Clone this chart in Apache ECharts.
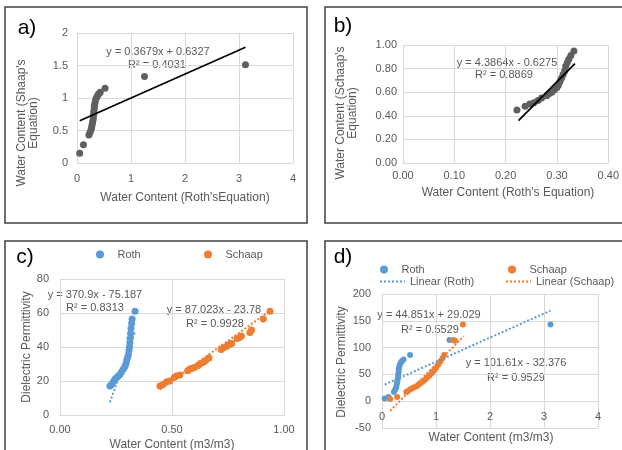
<!DOCTYPE html>
<html>
<head>
<meta charset="utf-8">
<script src="https://cdn.jsdelivr.net/npm/echarts@6/dist/echarts.min.js"></script>
<style>
html, body { margin: 0; padding: 0; background: #fff; }
#chart { width: 622px; height: 450px; }
</style>
</head>
<body>
<div id="chart"></div>
<script>
// a) water content, Roth (x) vs Schaap (y)
var pointsA = [
  [0.05, 0.15], [0.12, 0.28], [0.22, 0.43], [0.24, 0.47], [0.26, 0.51], [0.27, 0.55],
  [0.28, 0.59], [0.29, 0.63], [0.30, 0.67], [0.30, 0.71], [0.31, 0.75], [0.31, 0.79],
  [0.32, 0.83], [0.32, 0.87], [0.33, 0.91], [0.34, 0.95], [0.35, 0.99], [0.37, 1.02],
  [0.39, 1.05], [0.41, 1.07], [0.43, 1.09], [0.52, 1.15], [1.25, 1.33], [3.12, 1.51]
];
var trendA = [[0.05, 0.65], [3.12, 1.78]];
var ticksAX = [0, 1, 2, 3, 4];
var ticksAY = [0, 0.5, 1, 1.5, 2];

// b) same, without outliers
var pointsB = [
  [0.222, 0.45], [0.238, 0.48], [0.247, 0.50], [0.255, 0.51], [0.263, 0.53], [0.270, 0.55],
  [0.280, 0.57], [0.285, 0.59], [0.290, 0.60], [0.295, 0.62], [0.300, 0.64], [0.303, 0.66],
  [0.306, 0.69], [0.309, 0.72], [0.312, 0.75], [0.315, 0.78], [0.317, 0.82], [0.320, 0.85],
  [0.323, 0.88], [0.327, 0.91], [0.333, 0.95]
];
var trendB = [[0.225, 0.36], [0.335, 0.842]];
var ticksBX = [0, 0.1, 0.2, 0.3, 0.4];
var ticksBY = [0, 0.2, 0.4, 0.6, 0.8, 1.0];

// c) dielectric permittivity vs water content
var rothC = [
  [0.223, 17], [0.230, 18], [0.238, 19.5], [0.245, 21], [0.253, 22], [0.260, 23],
  [0.268, 24], [0.275, 25.5], [0.283, 27], [0.290, 28.5], [0.295, 30.5], [0.298, 32.5],
  [0.302, 34], [0.305, 35.5], [0.308, 38], [0.310, 40], [0.312, 42.5], [0.313, 45],
  [0.315, 48], [0.317, 51], [0.320, 54], [0.322, 56.5], [0.335, 61]
];
var schaapC = [
  [0.446, 17], [0.46, 18], [0.476, 19.5], [0.49, 20], [0.51, 22], [0.52, 23],
  [0.535, 23.5], [0.57, 26], [0.58, 27], [0.59, 27.5], [0.60, 28], [0.615, 29],
  [0.625, 30], [0.64, 31], [0.65, 32], [0.665, 33.5], [0.72, 38.5], [0.73, 39.5],
  [0.745, 40.5], [0.755, 41.5], [0.766, 42], [0.79, 45], [0.80, 45.5], [0.81, 46.5],
  [0.848, 48.5], [0.855, 50], [0.908, 56.5], [0.9375, 61]
];
var trendRothC = [[0.223, 7.5], [0.335, 49]];
var trendSchaapC = [[0.446, 15], [0.955, 63]];
var ticksCX = [0, 0.5, 1.0];
var ticksCY = [0, 20, 40, 60, 80];

// d) all samples
var rothD = [
  [0.05, 5], [0.12, 8], [0.22, 17], [0.24, 21], [0.26, 25], [0.27, 30], [0.28, 35],
  [0.29, 40], [0.30, 45], [0.30, 50], [0.31, 55], [0.31, 60], [0.32, 64], [0.33, 68],
  [0.35, 72], [0.37, 75], [0.40, 78], [0.52, 86], [1.25, 114], [3.12, 143]
];
var schaapD = [
  [0.15, 4], [0.28, 8], [0.45, 17], [0.48, 19], [0.52, 22], [0.56, 24], [0.60, 26],
  [0.64, 28], [0.68, 31], [0.72, 34], [0.76, 37], [0.80, 40], [0.84, 44], [0.88, 48],
  [0.92, 52], [0.96, 57], [1.00, 62], [1.04, 68], [1.08, 74], [1.12, 80], [1.15, 86],
  [1.32, 114], [1.35, 113], [1.50, 143]
];
var trendRothD = [[0.05, 31], [3.12, 169]];
var trendSchaapD = [[0.15, -18], [1.51, 121]];
var ticksDX = [0, 1, 2, 3, 4];
var ticksDY = [-50, 0, 50, 100, 150, 200];

var FONT = '"Liberation Sans", Arial, sans-serif';
var GREY = '#595959';
var LIGHT = '#D9D9D9';
var BLUE = '#5B9BD5';
var ORANGE = '#ED7D31';

function axis(gi, ticks, dec, margin) {
  return {
    type: 'value', gridIndex: gi,
    min: ticks[0], max: ticks[ticks.length - 1], interval: ticks[1] - ticks[0],
    axisLine: { show: true, onZero: false, lineStyle: { color: LIGHT } },
    axisTick: { show: false },
    splitLine: { show: true, lineStyle: { color: LIGHT } },
    axisLabel: {
      color: GREY, fontFamily: FONT, fontSize: 11, margin: margin,
      formatter: function (v) { return dec == null ? String(+v.toFixed(3)) : v.toFixed(dec); }
    }
  };
}

function txt(x, y, s, size, color, rot) {
  return {
    type: 'text', x: x, y: y, rotation: rot || 0,
    style: {
      text: s, fill: color || GREY, fontFamily: FONT, fontSize: size || 11,
      textAlign: 'center', textVerticalAlign: 'middle', lineHeight: 12
    }
  };
}

function box(x, y, w, h) {
  return { type: 'rect', shape: { x: x, y: y, width: w, height: h },
    style: { fill: 'none', stroke: '#404040', lineWidth: 1.5 } };
}

function dots(name, gi, data, color, size) {
  return { name: name, type: 'scatter', xAxisIndex: gi, yAxisIndex: gi, data: data,
    symbolSize: size, itemStyle: { color: color, opacity: 1 } };
}

function trend(name, gi, data, color, type) {
  return { name: name, type: 'line', xAxisIndex: gi, yAxisIndex: gi, data: data,
    showSymbol: false, symbol: 'none',
    lineStyle: { color: color, width: type === 'solid' ? 1.75 : 2, type: type } };
}

function leg(name, left, top, lineOnly) {
  var l = { data: [name], left: left, top: top, itemWidth: 25, itemHeight: 8,
    selectedMode: false, textStyle: { color: GREY, fontFamily: FONT, fontSize: 11 } };
  if (lineOnly) l.itemStyle = { opacity: 0 };
  return l;
}

// x axis of d sits on y = 0, like the Excel original
var axisDX = axis(3, ticksDX, null, 10);
axisDX.offset = -134 * (0 - ticksDY[0]) / (ticksDY[ticksDY.length - 1] - ticksDY[0]);

var chart = echarts.init(document.getElementById('chart'));
chart.setOption({
  animation: false,
  backgroundColor: '#fff',
  grid: [
    { left: 77, top: 33, width: 216, height: 130 },
    { left: 403, top: 45, width: 210, height: 118 },
    { left: 60, top: 279, width: 224, height: 136 },
    { left: 382, top: 294, width: 216, height: 134 }
  ],
  xAxis: [
    axis(0, ticksAX, null, 10),
    axis(1, ticksBX, 2, 7),
    axis(2, ticksCX, 2, 9),
    axisDX
  ],
  yAxis: [
    axis(0, ticksAY, null, 9),
    axis(1, ticksBY, 2, 6),
    axis(2, ticksCY, null, 11),
    axis(3, ticksDY, null, 11)
  ],
  legend: [
    leg('Roth', 91, 244),
    leg('Schaap', 199, 244),
    leg('Roth', 375, 259),
    leg('Schaap', 503, 259),
    leg('Linear (Roth)', 374, 271, true),
    leg('Linear (Schaap)', 500, 271, true)
  ],
  series: [
    dots('a', 0, pointsA, '#5f5f5f', 7),
    trend('trend a', 0, trendA, '#000', 'solid'),
    dots('b', 1, pointsB, '#5f5f5f', 7),
    trend('trend b', 1, trendB, '#000', 'solid'),
    dots('Roth', 2, rothC, BLUE, 7),
    dots('Schaap', 2, schaapC, ORANGE, 7),
    trend('trend Roth c', 2, trendRothC, BLUE, 'dotted'),
    trend('trend Schaap c', 2, trendSchaapC, ORANGE, 'dotted'),
    dots('Roth', 3, rothD, BLUE, 6),
    dots('Schaap', 3, schaapD, ORANGE, 6),
    trend('Linear (Roth)', 3, trendRothD, BLUE, 'dotted'),
    trend('Linear (Schaap)', 3, trendSchaapD, ORANGE, 'dotted')
  ],
  graphic: [
    box(5, 7, 302, 216), box(325, 7, 300, 216),
    box(5, 241, 302, 220), box(325, 241, 300, 220),
    txt(27, 28, 'a)', 21, '#000'),
    txt(343, 26, 'b)', 21, '#000'),
    txt(25, 257, 'c)', 21, '#000'),
    txt(343, 257, 'd)', 21, '#000'),
    txt(27.5, 123, "Water Content (Shaap's\nEquation)", 12, GREY, Math.PI / 2),
    txt(185, 198, "Water Content (Roth'sEquation)", 12),
    txt(347, 113, "Water Content (Schaap's\nEquation)", 12, GREY, Math.PI / 2),
    txt(508, 193, "Water Content (Roth's Equation)", 12),
    txt(27, 347, 'Dielectric Permittivity', 12, GREY, Math.PI / 2),
    txt(172, 445, 'Water Content (m3/m3)', 12),
    txt(342, 362, 'Dielectric Permittivity', 12, GREY, Math.PI / 2),
    txt(491, 438, 'Water Content (m3/m3)', 12),
    txt(158, 52, 'y = 0.3679x + 0.6327'),
    txt(157, 65, 'R² = 0.4031'),
    txt(507, 63, 'y = 4.3864x - 0.6275'),
    txt(504, 75, 'R² = 0.8869'),
    txt(95, 295, 'y = 370.9x - 75.187'),
    txt(95, 308, 'R² = 0.8313'),
    txt(214, 310, 'y = 87.023x - 23.78'),
    txt(215, 324, 'R² = 0.9928'),
    txt(429, 315, 'y = 44.851x + 29.029'),
    txt(430, 330, 'R² = 0.5529'),
    txt(516, 363, 'y = 101.61x - 32.376'),
    txt(516, 378, 'R² = 0.9529')
  ]
});
</script>
</body>
</html>
